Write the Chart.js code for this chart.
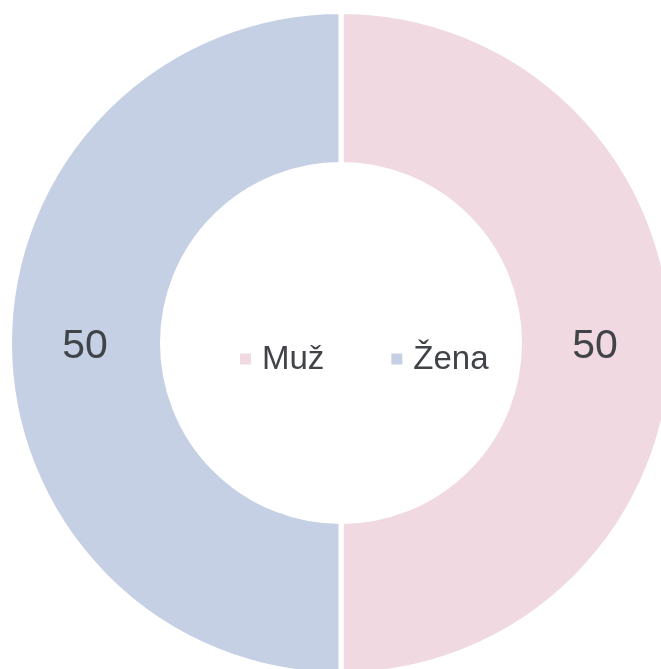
<!DOCTYPE html>
<html>
<head>
<meta charset="utf-8">
<script src="https://cdn.jsdelivr.net/npm/chart.js@4"></script>
<style>
  html, body { margin: 0; padding: 0; background: #fff; overflow: hidden; }
  #wrap { position: absolute; left: 0; top: 0; width: 682px; height: 686px; }
</style>
</head>
<body>
<div id="wrap"><canvas id="pie"></canvas></div>
<script>
// 数据
const labels = ['Muž', 'Žena'];
const values = [50, 50];
const colors = ['#f0d9e1', '#c6d0e4'];

const textColor = '#404347';
const fontFamily = '"Liberation Sans", Arial, sans-serif';

// 环上的数值 + 中心图例
const ringText = {
    id: 'ringText',
    afterDraw(chart) {
        const ctx = chart.ctx;
        const meta = chart.getDatasetMeta(0);
        ctx.save();
        ctx.fillStyle = textColor;
        ctx.textAlign = 'center';
        ctx.textBaseline = 'middle';
        ctx.font = '41px ' + fontFamily;
        meta.data.forEach((arc, i) => {
            const p = arc.tooltipPosition();
            ctx.fillText(String(values[i]), p.x - 1, p.y + 4);
        });

        // 图例
        const cx = (chart.chartArea.left + chart.chartArea.right) / 2;
        const cy = (chart.chartArea.top + chart.chartArea.bottom) / 2;
        ctx.font = '33px ' + fontFamily;
        ctx.textAlign = 'left';
        const box = 11, gap = 11, itemGap = 67;
        const widths = labels.map(l => box + gap + ctx.measureText(l).width);
        let x = cx - 101;
        const y = cy + 16;
        labels.forEach((l, i) => {
            ctx.fillStyle = colors[i];
            ctx.fillRect(x, y - box / 2, box, box);
            ctx.fillStyle = textColor;
            ctx.fillText(l, x + box + gap, y + 1);
            x += widths[i] + itemGap;
        });
        ctx.restore();
    }
};

new Chart(document.getElementById('pie'), {
    type: 'doughnut',
    data: {
        labels: labels,
        datasets: [{
            data: values,
            backgroundColor: colors,
            borderColor: '#ffffff',
            borderWidth: 5
        }]
    },
    options: {
        responsive: true,
        maintainAspectRatio: false,
        animation: false,
        radius: 331.5,
        cutout: '53.85%',
        plugins: {
            legend: { display: false },
            tooltip: { enabled: false }
        }
    },
    plugins: [ringText]
});
</script>
</body>
</html>
